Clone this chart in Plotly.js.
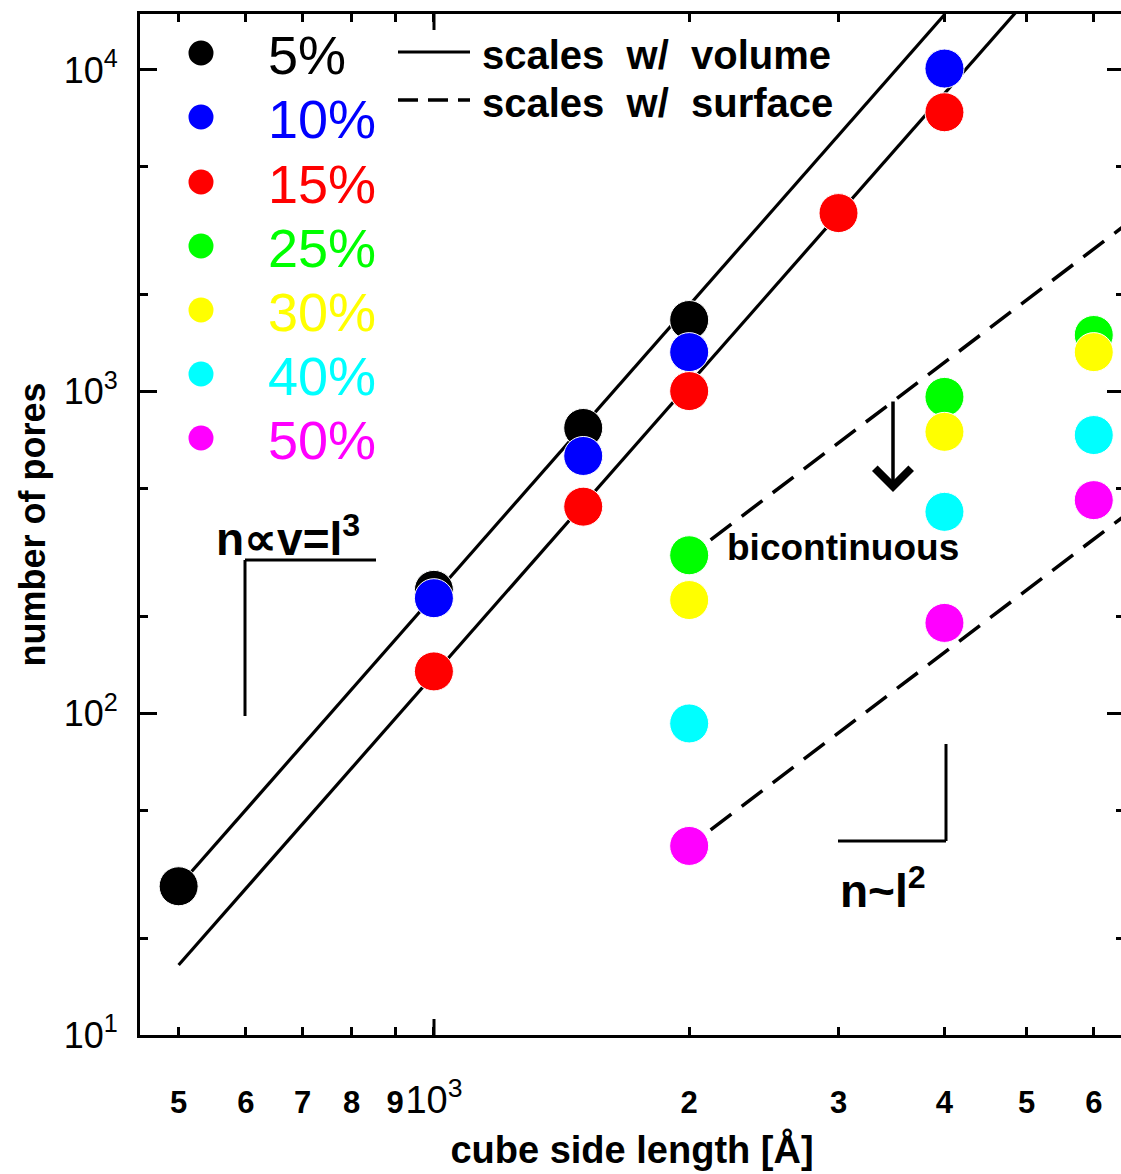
<!DOCTYPE html>
<html>
<head>
<meta charset="utf-8">
<script src="https://cdn.plot.ly/plotly-3.0.1.min.js"></script>
<style>
html,body{margin:0;padding:0;background:#fff;overflow:hidden;}
#chart{width:1124px;height:1174px;}
</style>
</head>
<body>
<div id="chart"></div>
<script>
// ---- data ----
const seriesNames = ['5%', '10%', '15%', '25%', '30%', '40%', '50%'];
const seriesColors = ['#000000', '#0000ff', '#ff0000', '#00ff00', '#ffff00', '#00ffff', '#ff00ff'];

const x5 = [500, 1000, 1500, 2000];
const y5 = [29, 242, 771, 1670];
const x10 = [1000, 1500, 2000, 4000];
const y10 = [228, 631, 1327, 10100];
const x15 = [1000, 1500, 2000, 3000, 4000];
const y15 = [135, 439, 1004, 3590, 7390];
const x25 = [2000, 4000, 6000];
const y25 = [310, 963, 1500];
const x30 = [2000, 4000, 6000];
const y30 = [225, 750, 1327];
const x40 = [2000, 4000, 6000];
const y40 = [93, 423, 733];
const x50 = [2000, 4000, 6000];
const y50 = [38.7, 191, 460];

// guide lines: scale with volume (solid) and with surface (dashed)
const volUpperX = [500, 4000];
const volUpperY = [29, 14850];
const volLowerX = [500, 5000];
const volLowerY = [16.5, 16500];
const surfUpperX = [2120, 6600];
const surfUpperY = [346, 3360];
const surfLowerX = [2120, 6600];
const surfLowerY = [43.4, 421];

const xTickVals = [500, 600, 700, 800, 900, 1000, 2000, 3000, 4000, 5000, 6000];
const xTickText = ['<b>5</b>', '<b>6</b>', '<b>7</b>', '<b>8</b>', '<b>9</b>',
  '<span style="font-size:38px">10<sup>3</sup></span>', '<b>2</b>', '<b>3</b>', '<b>4</b>', '<b>5</b>', '<b>6</b>'];
const yTickVals = [10, 100, 1000, 10000];
const yTickText = ['10<sup>1</sup>', '10<sup>2</sup>', '10<sup>3</sup>', '10<sup>4</sup>'];

// ---- layout geometry (pixels) ----
const W = 1124, H = 1174;
const L = 140, T = 14, B = 1035;
const PW = W - L, PH = B - T;
const px = v => (v - L) / PW;
const py = v => (B - v) / PH;

const FONT = "'Liberation Sans', Arial, sans-serif";

const xs = [x5, x10, x15, x25, x30, x40, x50];
const ys = [y5, y10, y15, y25, y30, y40, y50];

const traces = [];
traces.push({x: volUpperX, y: volUpperY, mode: 'lines', line: {color: '#000', width: 3.2}, hoverinfo: 'skip'});
traces.push({x: volLowerX, y: volLowerY, mode: 'lines', line: {color: '#000', width: 3.2}, hoverinfo: 'skip'});
traces.push({x: surfUpperX, y: surfUpperY, mode: 'lines', line: {color: '#000', width: 3.5, dash: '26px,13px'}, hoverinfo: 'skip'});
traces.push({x: surfLowerX, y: surfLowerY, mode: 'lines', line: {color: '#000', width: 3.5, dash: '26px,13px'}, hoverinfo: 'skip'});
for (let i = 0; i < seriesNames.length; i++) {
  traces.push({
    x: xs[i], y: ys[i], name: seriesNames[i], mode: 'markers',
    marker: {color: seriesColors[i], size: 39, line: {color: '#ffffff', width: 1}},
    cliponaxis: false
  });
}

const shapes = [];
const annotations = [];

// legend for percentages
const legRowsY = [53, 117, 182, 246, 310, 374, 438];
for (let i = 0; i < seriesNames.length; i++) {
  shapes.push({type: 'circle', xref: 'paper', yref: 'paper', xsizemode: 'pixel', ysizemode: 'pixel',
    xanchor: px(201), yanchor: py(legRowsY[i]), x0: -12.5, x1: 12.5, y0: -12.5, y1: 12.5,
    fillcolor: seriesColors[i], line: {width: 0}});
  annotations.push({xref: 'paper', yref: 'paper', x: px(266), y: py(legRowsY[i] + 2), xanchor: 'left', yanchor: 'middle',
    text: seriesNames[i], showarrow: false, font: {family: FONT, size: 54, color: seriesColors[i]}});
}
// legend for line styles
shapes.push({type: 'line', xref: 'paper', yref: 'paper', x0: px(398), x1: px(470), y0: py(52), y1: py(52), line: {color: '#000', width: 3.2}});
shapes.push({type: 'line', xref: 'paper', yref: 'paper', x0: px(398), x1: px(470), y0: py(100), y1: py(100), line: {color: '#000', width: 3.5, dash: '20px,10px'}});
annotations.push({xref: 'paper', yref: 'paper', x: px(480), y: py(55), xanchor: 'left', yanchor: 'middle',
  text: 'scales  w/  volume', showarrow: false, font: {family: FONT, size: 40, color: '#000', weight: 'bold'}});
annotations.push({xref: 'paper', yref: 'paper', x: px(480), y: py(103), xanchor: 'left', yanchor: 'middle',
  text: 'scales  w/  surface', showarrow: false, font: {family: FONT, size: 40, color: '#000', weight: 'bold'}});

// long tick at 10^3 (bottom and top)
shapes.push({type: 'line', xref: 'paper', yref: 'paper', x0: px(434), x1: px(434), y0: py(1035), y1: py(1019), line: {color: '#000', width: 3}});
shapes.push({type: 'line', xref: 'paper', yref: 'paper', x0: px(434), x1: px(434), y0: py(14), y1: py(30), line: {color: '#000', width: 3}});

// slope brackets
shapes.push({type: 'line', xref: 'paper', yref: 'paper', x0: px(245), x1: px(376), y0: py(560), y1: py(560), line: {color: '#000', width: 3}});
shapes.push({type: 'line', xref: 'paper', yref: 'paper', x0: px(245), x1: px(245), y0: py(560), y1: py(716), line: {color: '#000', width: 3}});
shapes.push({type: 'line', xref: 'paper', yref: 'paper', x0: px(946), x1: px(946), y0: py(744), y1: py(841), line: {color: '#000', width: 3}});
shapes.push({type: 'line', xref: 'paper', yref: 'paper', x0: px(838), x1: px(946), y0: py(841), y1: py(841), line: {color: '#000', width: 3}});

annotations.push({xref: 'paper', yref: 'paper', x: px(214), y: py(536), xanchor: 'left', yanchor: 'middle',
  text: 'n∝v=l<sup>3</sup>', showarrow: false, font: {family: FONT, size: 46, color: '#000', weight: 'bold'}});
annotations.push({xref: 'paper', yref: 'paper', x: px(838), y: py(888), xanchor: 'left', yanchor: 'middle',
  text: 'n~l<sup>2</sup>', showarrow: false, font: {family: FONT, size: 46, color: '#000', weight: 'bold'}});
annotations.push({xref: 'paper', yref: 'paper', x: px(725), y: py(547), xanchor: 'left', yanchor: 'middle',
  text: 'bicontinuous', showarrow: false, font: {family: FONT, size: 37, color: '#000', weight: 'bold'}});
// arrow
annotations.push({xref: 'paper', yref: 'paper', x: px(893), y: py(492), ax: 0, ay: -92, text: '',
  showarrow: true, arrowhead: 4, arrowsize: 2, arrowwidth: 3.5, arrowcolor: '#000'});

const layout = {
  width: W, height: H,
  margin: {l: L, r: 0, t: T, b: H - B},
  paper_bgcolor: '#ffffff', plot_bgcolor: '#ffffff',
  showlegend: false,
  font: {family: FONT, color: '#000'},
  xaxis: {
    type: 'log', range: [Math.log10(450.2), 3.8138],
    showline: true, linecolor: '#000', linewidth: 3, mirror: 'ticks',
    ticks: 'inside', ticklen: 8, tickwidth: 3, tickcolor: '#000',
    tickmode: 'array', tickvals: xTickVals, ticktext: xTickText, tickangle: 0,
    tickfont: {family: FONT, size: 31, color: '#000'},
    ticklabelstandoff: 38,
    showgrid: false, zeroline: false,
    title: {text: 'cube side length [Å]', font: {family: FONT, size: 38, color: '#000', weight: 'bold'}, standoff: 17}
  },
  yaxis: {
    type: 'log', range: [1, 4.174],
    showline: true, linecolor: '#000', linewidth: 3, mirror: 'ticks',
    ticks: 'inside', ticklen: 17, tickwidth: 3, tickcolor: '#000',
    tickmode: 'array', tickvals: yTickVals, ticktext: yTickText,
    tickfont: {family: FONT, size: 36, color: '#000'},
    ticklabelstandoff: 12,
    minor: {ticks: 'inside', dtick: 'D2', ticklen: 8, tickwidth: 3, tickcolor: '#000', showgrid: false},
    showgrid: false, zeroline: false,
    title: {text: 'number of pores', font: {family: FONT, size: 36, color: '#000', weight: 'bold'}, standoff: 8}
  },
  shapes: shapes,
  annotations: annotations
};

Plotly.newPlot('chart', traces, layout, {staticPlot: true, displayModeBar: false});
</script>
</body>
</html>
